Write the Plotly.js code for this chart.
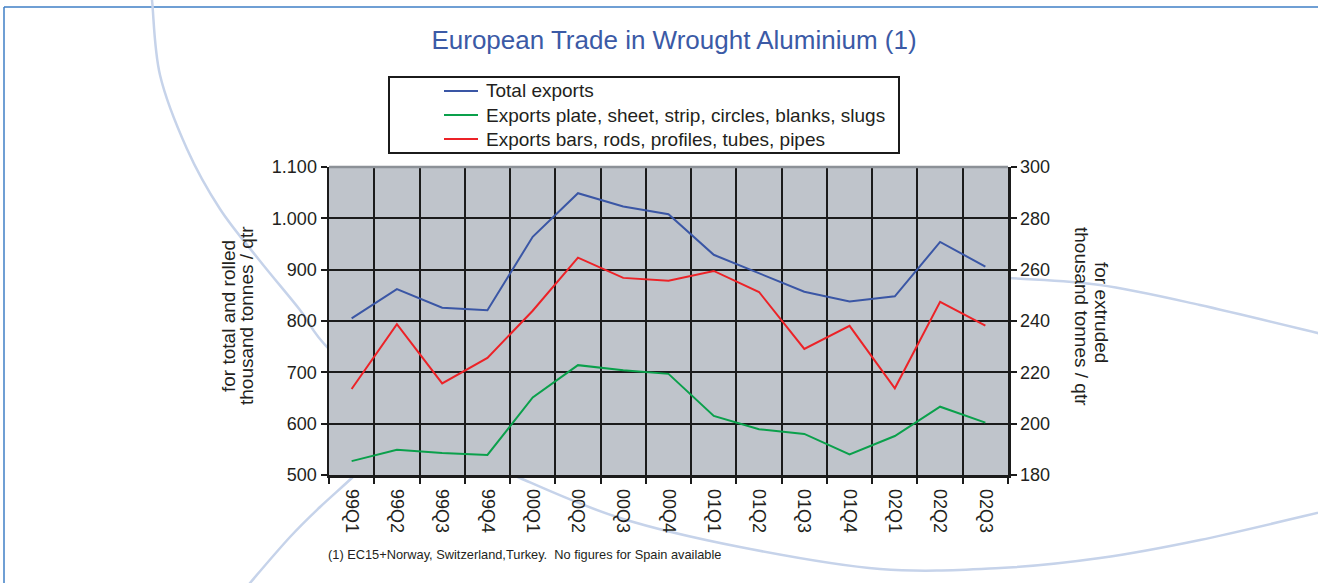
<!DOCTYPE html>
<html>
<head>
<meta charset="utf-8">
<script src="https://cdn.plot.ly/plotly-3.0.1.min.js"></script>
<style>
html,body{margin:0;padding:0;background:#ffffff;}
#chart{width:1318px;height:583px;}
</style>
</head>
<body>
<div id="chart"></div>
<script>
// ---- data ----
const quarters = ['99Q1','99Q2','99Q3','99Q4','00Q1','00Q2','00Q3','00Q4','01Q1','01Q2','01Q3','01Q4','02Q1','02Q2','02Q3'];
const totalExports = [805, 862, 826, 821, 964, 1049, 1023, 1008, 929, 893, 857, 838, 848, 954, 906];
const rolledExports = [527, 549, 543, 539, 651, 714, 704, 697, 615, 589, 580, 540, 576, 633, 602];
const extrudedExports = [213.5, 238.8, 215.7, 225.6, 244, 264.7, 256.8, 255.7, 259.5, 251.3, 229.1, 238.1, 213.8, 247.5, 238.2];
const seriesNames = ['Total exports', 'Exports plate, sheet, strip, circles, blanks, slugs', 'Exports bars, rods, profiles, tubes, pipes'];
const leftTickVals = [500, 600, 700, 800, 900, 1000, 1100];
const rightTickVals = [180, 200, 220, 240, 260, 280, 300];
const titleText = 'European Trade in Wrought Aluminium (1)';
const leftTitleLines = ['for total and rolled', 'thousand tonnes / qtr'];
const rightTitleLines = ['for extruded', 'thousand tonnes / qtr'];
const footnote = '(1) EC15+Norway, Switzerland,Turkey.\u00a0 No figures for Spain available';

// ---- style ----
const colors = ['#3a56a5', '#0aa04b', '#ec2227'];
const FONT = 'Arial, "Liberation Sans", Helvetica, sans-serif';
const TXT = '#231f20';
const W = 1318, H = 583, PL = 329, PR = 1008, PT = 167, PB = 475;
const PW = PR - PL, PH = PB - PT;
const px = x => (x - PL) / PW;
const py = y => (PB - y) / PH;

function smoothPath(pts) {
  const P = pts.map(p => [px(p[0]), py(p[1])]);
  let d = 'M' + P[0][0] + ',' + P[0][1];
  for (let i = 0; i < P.length - 1; i++) {
    const p0 = P[Math.max(i - 1, 0)], p1 = P[i], p2 = P[i + 1], p3 = P[Math.min(i + 2, P.length - 1)];
    const c1 = [p1[0] + (p2[0] - p0[0]) / 6, p1[1] + (p2[1] - p0[1]) / 6];
    const c2 = [p2[0] - (p3[0] - p1[0]) / 6, p2[1] - (p3[1] - p1[1]) / 6];
    d += ' C' + c1[0] + ',' + c1[1] + ' ' + c2[0] + ',' + c2[1] + ' ' + p2[0] + ',' + p2[1];
  }
  return d;
}

const arcColor = '#c6d3ea';
const shapes = [];
// page frame
shapes.push({type:'line', xref:'paper', yref:'paper', x0:px(4), y0:py(7), x1:px(1320), y1:py(7), line:{color:'#3f7fc6', width:1.5}, layer:'below'});
shapes.push({type:'line', xref:'paper', yref:'paper', x0:px(4), y0:py(7), x1:px(4), y1:py(590), line:{color:'#3f7fc6', width:1.5}, layer:'below'});
// decorative arcs
shapes.push({type:'path', xref:'paper', yref:'paper', layer:'below', line:{color:arcColor, width:2.5},
  path: smoothPath([[149,-30],[152,0],[160,75],[187,149],[220,209],[260,261],[300,310],[330,350],[420,430],[520,478],[620,518],[740,547],[880,569],[1000,568],[1100,558],[1200,540],[1330,510]])});
shapes.push({type:'path', xref:'paper', yref:'paper', layer:'below', line:{color:arcColor, width:2.5},
  path: smoothPath([[228,610],[250,583],[290,537],[320,507],[355,475],[390,440]])});
shapes.push({type:'path', xref:'paper', yref:'paper', layer:'below', line:{color:arcColor, width:2.5},
  path: smoothPath([[900,272],[1008,278],[1100,285],[1200,305],[1330,336]])});
// plot background (covers the arcs inside the plot)
shapes.push({type:'rect', xref:'paper', yref:'paper', x0:0, y0:0, x1:1, y1:1, fillcolor:'#bfc4cb', line:{width:0}, layer:'below'});
// top edge of plot area (grey)
shapes.push({type:'line', xref:'paper', yref:'paper', x0:0, x1:1, y0:1, y1:1, line:{color:'#8c9197', width:2.5}, layer:'above'});
// legend box
shapes.push({type:'rect', xref:'paper', yref:'paper', x0:px(389), y0:py(153), x1:px(899), y1:py(77), fillcolor:'#ffffff', line:{color:'#1b1b1b', width:2}, layer:'below'});

const annotations = [];
const legendRows = [91, 115, 139];
seriesNames.forEach((name, i) => {
  shapes.push({type:'line', xref:'paper', yref:'paper', x0:px(444), x1:px(478), y0:py(legendRows[i]), y1:py(legendRows[i]), line:{color:colors[i], width:2}});
});
annotations.push({text:seriesNames.join('<br>'), xref:'paper', yref:'paper', x:px(484), y:py(legendRows[1]), xanchor:'left', yanchor:'middle', align:'left', showarrow:false, font:{family:FONT, size:19, color:TXT}});
// axis titles
annotations.push({text:leftTitleLines[0], xref:'paper', yref:'paper', x:px(228), y:py(316), textangle:-90, xanchor:'center', yanchor:'middle', showarrow:false, font:{family:FONT, size:19, color:TXT}});
annotations.push({text:leftTitleLines[1], xref:'paper', yref:'paper', x:px(246), y:py(316), textangle:-90, xanchor:'center', yanchor:'middle', showarrow:false, font:{family:FONT, size:19, color:TXT}});
annotations.push({text:rightTitleLines[0], xref:'paper', yref:'paper', x:px(1102), y:py(312), textangle:90, xanchor:'center', yanchor:'middle', showarrow:false, font:{family:FONT, size:19, color:TXT}});
annotations.push({text:rightTitleLines[1], xref:'paper', yref:'paper', x:px(1082), y:py(316), textangle:90, xanchor:'center', yanchor:'middle', showarrow:false, font:{family:FONT, size:19, color:TXT}});
// footnote
annotations.push({text:footnote, xref:'paper', yref:'paper', x:px(326), y:py(554), xanchor:'left', yanchor:'middle', showarrow:false, font:{family:FONT, size:12.8, color:TXT}});

const traces = [
  {x:quarters, y:totalExports, name:seriesNames[0], type:'scatter', mode:'lines', line:{color:colors[0], width:2}, yaxis:'y'},
  {x:quarters, y:rolledExports, name:seriesNames[1], type:'scatter', mode:'lines', line:{color:colors[1], width:2}, yaxis:'y'},
  {x:quarters, y:extrudedExports, name:seriesNames[2], type:'scatter', mode:'lines', line:{color:colors[2], width:2}, yaxis:'y2'}
];

const gridColor = '#1b1b1b';
const layout = {
  width: W, height: H,
  margin: {l: PL, r: W - PR, t: PT, b: H - PB, pad: 0},
  paper_bgcolor: 'rgba(0,0,0,0)',
  plot_bgcolor: '#bfc4cb',
  separators: ',.',
  showlegend: false,
  font: {family: FONT, size: 18, color: TXT},
  title: {text: titleText, font: {family: FONT, size: 26, color: '#3b5aa6'}, xref:'paper', x: px(674), xanchor:'center', yref:'container', y: 1 - 40/H, yanchor:'middle'},
  xaxis: {
    type:'category', range:[-0.5, quarters.length - 0.5], tickson:'boundaries',
    showgrid:true, gridcolor:gridColor, gridwidth:2,
    ticks:'outside', ticklen:6, tickwidth:2, tickcolor:gridColor,
    showline:true, linecolor:gridColor, linewidth:2.5,
    tickangle:90, ticklabelstandoff:8, tickfont:{family:FONT, size:18, color:TXT}, fixedrange:true
  },
  yaxis: {
    range:[500, 1100], tickvals:leftTickVals, tickformat:',d',
    showgrid:true, gridcolor:gridColor, gridwidth:2, zeroline:false,
    ticks:'outside', ticklen:6, tickwidth:2, tickcolor:gridColor,
    showline:true, linecolor:gridColor, linewidth:2.5,
    tickfont:{family:FONT, size:18, color:TXT}, fixedrange:true
  },
  yaxis2: {
    range:[180, 300], tickvals:rightTickVals, overlaying:'y', side:'right',
    showgrid:false, zeroline:false,
    ticks:'outside', ticklen:6, tickwidth:2, tickcolor:gridColor,
    showline:true, linecolor:gridColor, linewidth:2.5,
    tickfont:{family:FONT, size:18, color:TXT}, fixedrange:true
  },
  shapes: shapes,
  annotations: annotations
};

Plotly.newPlot('chart', traces, layout, {displayModeBar:false, staticPlot:true});
</script>
</body>
</html>
